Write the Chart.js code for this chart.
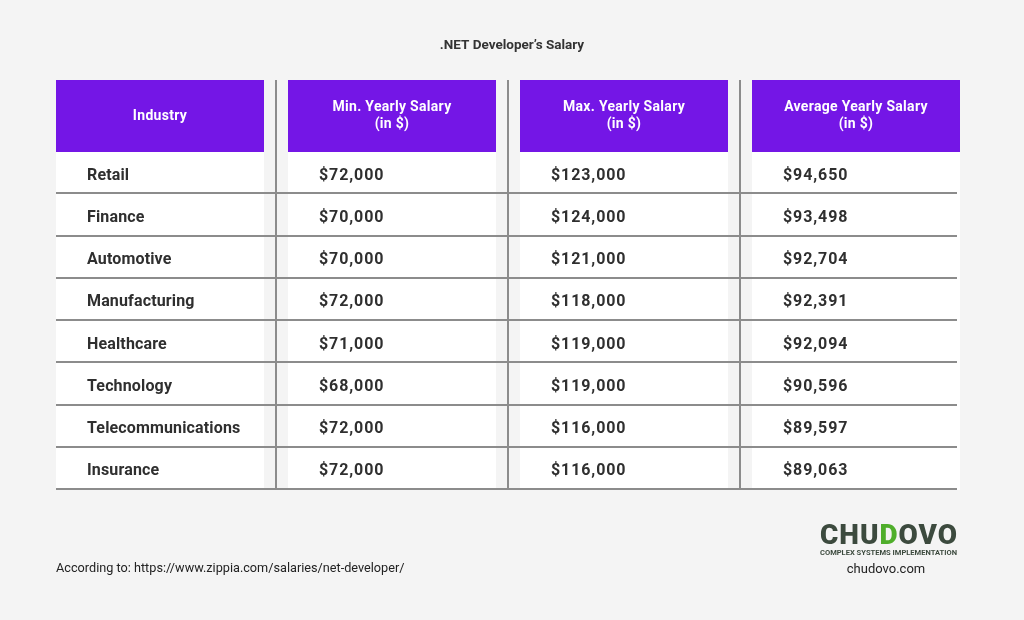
<!DOCTYPE html>
<html>
<head>
<meta charset="utf-8">
<script src="https://cdn.jsdelivr.net/npm/chart.js@4"></script>
<style>
  html, body { margin: 0; padding: 0; background: #f4f4f4; }
  canvas { display: block; }
</style>
</head>
<body>
<canvas id="G1" width="1024" height="620"></canvas>
<script>
// table data
const columnKeys = ['industry', 'min', 'max', 'avg'];
const headerLines = [
  ['Industry'],
  ['Min. Yearly Salary', '(in $)'],
  ['Max. Yearly Salary', '(in $)'],
  ['Average Yearly Salary', '(in $)']
];
const industries = ['Retail', 'Finance', 'Automotive', 'Manufacturing', 'Healthcare', 'Technology', 'Telecommunications', 'Insurance'];
const minSalary = [72000, 70000, 70000, 72000, 71000, 68000, 72000, 72000];
const maxSalary = [123000, 124000, 121000, 118000, 119000, 119000, 116000, 116000];
const avgSalary = [94650, 93498, 92704, 92391, 92094, 90596, 89597, 89063];

const FONT = 'Roboto, "Noto Sans", sans-serif';
const PURPLE = '#7416e6';
const TEXT = '#2f2f2f';
const LINE = '#8c8c8c';

const money = v => '$' + v.toLocaleString('en-US');

function cells(col, values, fmt) {
  return industries.map((ind, i) => ({ x: col, y: ind, label: fmt(values[i]) }));
}

const tablePlugin = {
  id: 'table',
  beforeDraw(chart) {
    const ctx = chart.ctx;
    ctx.save();
    ctx.fillStyle = '#f4f4f4';
    ctx.fillRect(0, 0, chart.width, chart.height);
    ctx.restore();
  },
  beforeDatasetsDraw(chart) {
    const ctx = chart.ctx;
    const xs = chart.scales.x, ys = chart.scales.y;
    const area = chart.chartArea;
    const pitch = xs.getPixelForValue(1) - xs.getPixelForValue(0);
    const boxW = pitch - 24;
    const headTop = 80;
    ctx.save();
    // header + white column boxes
    columnKeys.forEach((k, i) => {
      const cx = xs.getPixelForValue(i);
      ctx.fillStyle = PURPLE;
      ctx.fillRect(cx - boxW / 2, headTop, boxW, area.top - headTop);
      ctx.fillStyle = '#ffffff';
      ctx.fillRect(cx - boxW / 2, area.top, boxW, area.bottom - area.top);
      ctx.fillStyle = '#ffffff';
      ctx.font = 'bold 14px ' + FONT;
      ctx.letterSpacing = '0.3px';
      ctx.textAlign = 'center';
      ctx.textBaseline = 'middle';
      const lines = headerLines[i];
      const midY = (headTop + area.top) / 2;
      lines.forEach((t, j) => {
        ctx.fillText(t, cx, midY + (j - (lines.length - 1) / 2) * 17);
      });
    });
    ctx.letterSpacing = '0px';
    // row separators
    const rowH = ys.getPixelForValue(1) - ys.getPixelForValue(0);
    const left = xs.getPixelForValue(0) - boxW / 2;
    const right = xs.getPixelForValue(columnKeys.length - 1) + boxW / 2 - 3;
    ctx.strokeStyle = LINE;
    ctx.lineWidth = 2;
    industries.forEach((ind, i) => {
      const y = Math.round(ys.getPixelForValue(i) + rowH / 2) - 1;
      ctx.beginPath();
      ctx.moveTo(left, y);
      ctx.lineTo(right, y);
      ctx.stroke();
    });
    // column separators
    for (let i = 0; i < columnKeys.length - 1; i++) {
      const x = Math.round(xs.getPixelForValue(i) + pitch / 2);
      ctx.beginPath();
      ctx.moveTo(x, headTop);
      ctx.lineTo(x, area.bottom);
      ctx.stroke();
    }
    ctx.restore();
  },
  afterDatasetsDraw(chart) {
    const ctx = chart.ctx;
    const xs = chart.scales.x;
    const pitch = xs.getPixelForValue(1) - xs.getPixelForValue(0);
    const boxW = pitch - 24;
    ctx.save();
    ctx.fillStyle = TEXT;
    ctx.font = 'bold 16px ' + FONT;
    ctx.textAlign = 'left';
    ctx.textBaseline = 'middle';
    chart.data.datasets.forEach((ds, d) => {
      const meta = chart.getDatasetMeta(d);
      // salary columns use wider digit spacing
      ctx.letterSpacing = d === 0 ? '0.15px' : '0.9px';
      meta.data.forEach((pt, i) => {
        ctx.fillText(ds.data[i].label, pt.x - boxW / 2 + 31, pt.y + 2.5);
      });
    });
    ctx.letterSpacing = '0px';

    // title
    ctx.fillStyle = '#333333';
    ctx.font = 'bold 13.5px ' + FONT;
    ctx.textAlign = 'center';
    ctx.fillText('.NET Developer\u2019s Salary', 512, 46);

    // source note
    ctx.font = '12.7px ' + FONT;
    ctx.textAlign = 'left';
    ctx.fillStyle = '#222222';
    ctx.fillText('According to: https://www.zippia.com/salaries/net-developer/', 56, 569);

    // logo
    const lx = 820, ly = 537;
    ctx.font = '900 28px ' + FONT;
    ctx.letterSpacing = '1px';
    ctx.textAlign = 'left';
    const parts = [['CHU', '#3c4a3e'], ['D', '#4fae2b'], ['OVO', '#3c4a3e']];
    const total = parts.reduce((s, p) => s + ctx.measureText(p[0]).width, 0);
    const sx = 138 / total;
    ctx.save();
    ctx.translate(lx, ly);
    ctx.scale(sx, 1);
    let px = 0;
    parts.forEach(p => {
      ctx.fillStyle = p[1];
      ctx.fillText(p[0], px, 0);
      px += ctx.measureText(p[0]).width;
    });
    ctx.restore();
    ctx.letterSpacing = '0px';
    ctx.font = 'bold 7px ' + FONT;
    ctx.fillStyle = '#3c4a3e';
    const sub = 'COMPLEX SYSTEMS IMPLEMENTATION';
    const sw = ctx.measureText(sub).width;
    ctx.save();
    ctx.translate(lx, 553);
    ctx.scale(137 / sw, 1);
    ctx.fillText(sub, 0, 0);
    ctx.restore();
    ctx.font = '13px ' + FONT;
    ctx.fillStyle = '#222222';
    ctx.textAlign = 'center';
    ctx.fillText('chudovo.com', 886, 570);
    ctx.restore();
  }
};

const pointStyle = { showLine: false, pointRadius: 0, pointHoverRadius: 0 };

window.G1 = {
  type: 'line',
  data: {
    datasets: [
      Object.assign({ label: 'Industry', data: cells('industry', industries, v => v) }, pointStyle),
      Object.assign({ label: 'Min', data: cells('min', minSalary, money) }, pointStyle),
      Object.assign({ label: 'Max', data: cells('max', maxSalary, money) }, pointStyle),
      Object.assign({ label: 'Average', data: cells('avg', avgSalary, money) }, pointStyle)
    ]
  },
  options: {
    responsive: false,
    animation: false,
    events: [],
    layout: { padding: { left: 44, right: 52, top: 152, bottom: 130 } },
    scales: {
      x: { type: 'category', labels: columnKeys, offset: true, display: false },
      y: { type: 'category', labels: industries, offset: true, display: false }
    },
    plugins: {
      legend: { display: false },
      tooltip: { enabled: false },
      title: { display: false }
    }
  },
  plugins: [tablePlugin]
};

new Chart(document.getElementById('G1'), window.G1);
</script>
</body>
</html>
